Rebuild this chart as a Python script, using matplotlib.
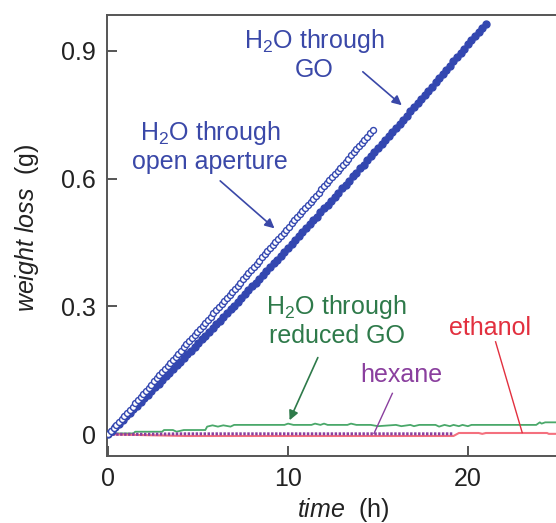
import numpy as np
import matplotlib
matplotlib.use("Agg")
import matplotlib.pyplot as plt

# fonts: Arial-like text, mathtext for the H2O subscript and italic words
plt.rcParams['font.family'] = ['Liberation Sans', 'DejaVu Sans']
plt.rcParams['mathtext.fontset'] = 'custom'
plt.rcParams['mathtext.rm'] = 'Liberation Sans'
plt.rcParams['mathtext.it'] = 'Liberation Sans:italic'

# ---- data ----
# H2O through GO, sampled every 0.2 h
go_t = np.arange(0, 21.01, 0.2)
go_w = [0.000, 0.008, 0.017, 0.025, 0.034, 0.042, 0.050, 0.059, 0.067, 0.076,
        0.084, 0.093, 0.101, 0.110, 0.119, 0.127, 0.136, 0.144, 0.153, 0.162,
        0.170, 0.179, 0.188, 0.196, 0.205, 0.214, 0.223, 0.231, 0.240, 0.249,
        0.258, 0.267, 0.276, 0.284, 0.293, 0.302, 0.311, 0.320, 0.329, 0.338,
        0.347, 0.356, 0.365, 0.374, 0.383, 0.392, 0.401, 0.410, 0.419, 0.428,
        0.438, 0.447, 0.456, 0.465, 0.474, 0.484, 0.493, 0.502, 0.511, 0.521,
        0.530, 0.539, 0.548, 0.558, 0.567, 0.577, 0.586, 0.595, 0.605, 0.614,
        0.624, 0.633, 0.643, 0.652, 0.662, 0.671, 0.681, 0.690, 0.700, 0.709,
        0.719, 0.729, 0.738, 0.748, 0.758, 0.767, 0.777, 0.787, 0.797, 0.806,
        0.816, 0.826, 0.836, 0.845, 0.855, 0.865, 0.875, 0.885, 0.895, 0.905,
        0.915, 0.925, 0.935, 0.944, 0.954, 0.964]

# H2O through open aperture, sampled every 0.15 h
open_t = np.arange(0, 14.71, 0.15)
open_w = [0.000, 0.007, 0.015, 0.022, 0.029, 0.036, 0.044, 0.051, 0.058, 0.065,
          0.073, 0.080, 0.087, 0.095, 0.102, 0.109, 0.116, 0.124, 0.131, 0.138,
          0.146, 0.153, 0.160, 0.167, 0.175, 0.182, 0.189, 0.196, 0.204, 0.211,
          0.218, 0.226, 0.233, 0.240, 0.247, 0.255, 0.262, 0.269, 0.276, 0.284,
          0.291, 0.298, 0.306, 0.313, 0.320, 0.327, 0.335, 0.342, 0.349, 0.356,
          0.364, 0.371, 0.378, 0.386, 0.393, 0.400, 0.407, 0.415, 0.422, 0.429,
          0.437, 0.444, 0.451, 0.458, 0.466, 0.473, 0.480, 0.487, 0.495, 0.502,
          0.509, 0.517, 0.524, 0.531, 0.538, 0.546, 0.553, 0.560, 0.567, 0.575,
          0.582, 0.589, 0.597, 0.604, 0.611, 0.618, 0.626, 0.633, 0.640, 0.647,
          0.655, 0.662, 0.669, 0.677, 0.684, 0.691, 0.698, 0.706, 0.713]

# H2O through reduced GO
rgo_t = [0, 0.1, 1.4, 1.5, 3.0, 3.1, 3.6, 3.8, 4.2, 5.4, 5.5, 5.8, 6.1, 6.4,
         6.8, 7.0, 9.8, 10.0, 10.3, 11.3, 11.5, 11.8, 12.0, 12.2, 13.3, 13.5,
         13.8, 14.6, 15.0, 16.0, 16.3, 16.8, 17.0, 17.3, 17.6, 18.2, 18.4, 18.7,
         19.0, 19.2, 19.5, 19.7, 20.0, 20.2, 23.8, 24.0, 24.1, 24.3, 25.0]
rgo_w = [0.0, 0.002, 0.002, 0.006, 0.006, 0.010, 0.010, 0.006, 0.010, 0.010,
         0.018, 0.021, 0.018, 0.021, 0.018, 0.022, 0.022, 0.025, 0.022, 0.022,
         0.025, 0.022, 0.025, 0.022, 0.022, 0.025, 0.022, 0.022, 0.019, 0.022,
         0.019, 0.022, 0.019, 0.022, 0.022, 0.022, 0.018, 0.022, 0.019, 0.022,
         0.019, 0.022, 0.019, 0.022, 0.022, 0.028, 0.025, 0.028, 0.028]

# ethanol
eth_t = [0, 2.0, 4.3, 19.2, 19.5, 20.6, 20.8, 21.0, 24.4, 24.5, 25.0]
eth_w = [0.0, -0.002, -0.004, -0.004, 0.003, 0.003, 0.001, 0.003, 0.003, 0.001, 0.001]

# hexane
hex_t = [0, 2, 4, 6, 8, 10, 12, 14, 16, 18, 19.2]
hex_w = [0.0, 0.0, 0.001, 0.001, 0.001, 0.001, 0.001, 0.001, 0.001, 0.001, 0.001]

x_ticks = [0, 10, 20]
y_ticks = [0, 0.3, 0.6, 0.9]
y_ticklabels = ["0", "0.3", "0.6", "0.9"]

blue = '#3347b0'
blue_txt = '#3a48a8'
green = '#4aa86a'
green_txt = '#2e7a4a'
purple = '#8a3f9e'
red = '#f4707e'
red_txt = '#e2303f'
spine_col = '#555555'
fs = 18

fig = plt.figure(figsize=(5.56, 5.23), dpi=100)
ax = fig.add_axes([0.1924, 0.1281, 0.8076, 0.8432])

ax.plot(rgo_t, rgo_w, color=green, lw=1.3, zorder=2)
ax.plot(eth_t, eth_w, color=red, lw=1.5, zorder=2)
ax.plot(hex_t, hex_w, color=purple, lw=2.2, ls=(0, (0.8, 0.5)), zorder=3)
ax.plot(go_t, go_w, ls='none', marker='o', ms=5.0, color=blue, mec=blue, zorder=4)
ax.plot(open_t, open_w, ls='none', marker='o', ms=4.3, mfc='white', mec=blue, mew=1.0, zorder=4)

ax.set_xlim(-0.07, 24.9)
ax.set_ylim(-0.051, 0.984)
ax.set_xticks(x_ticks)
ax.set_xticklabels([str(v) for v in x_ticks])
ax.set_yticks(y_ticks)
ax.set_yticklabels(y_ticklabels)
ax.tick_params(direction='in', length=7, width=1.4, color=spine_col, labelsize=fs, pad=8,
               labelcolor='#222222')
ax.spines['right'].set_visible(False)
for s in ['left', 'bottom', 'top']:
    ax.spines[s].set_color(spine_col)
    ax.spines[s].set_linewidth(1.4)

# annotations
ax.text(11.45, 0.892, "H$_2$O through\nGO", color=blue_txt, fontsize=fs, ha='center',
        va='center', multialignment='center', linespacing=1.15)
ax.annotate("", xy=(16.44, 0.768), xytext=(14.04, 0.855),
            arrowprops=dict(arrowstyle='-|>', color=blue_txt, lw=1.2, mutation_scale=14))
ax.text(5.68, 0.675, "H$_2$O through\nopen aperture", color=blue_txt, fontsize=fs, ha='center',
        va='center', multialignment='center', linespacing=1.15)
ax.annotate("", xy=(9.36, 0.479), xytext=(6.11, 0.599),
            arrowprops=dict(arrowstyle='-|>', color=blue_txt, lw=1.2, mutation_scale=14))
ax.text(12.7, 0.268, "H$_2$O through\nreduced GO", color=green_txt, fontsize=fs, ha='center',
        va='center', multialignment='center', linespacing=1.15)
ax.annotate("", xy=(10.02, 0.027), xytext=(11.72, 0.186),
            arrowprops=dict(arrowstyle='-|>', color=green_txt, lw=1.2, mutation_scale=14))
ax.text(16.3, 0.139, "hexane", color=purple, fontsize=fs, ha='center', va='center')
ax.plot([15.8, 14.78], [0.096, 0.002], color=purple, lw=1.0)
ax.text(21.23, 0.249, "ethanol", color=red_txt, fontsize=fs, ha='center', va='center')
ax.plot([21.54, 23.02], [0.217, 0.004], color=red_txt, lw=1.0)

# axis labels
fig.text(27 / 556, 1 - 228 / 523, r"$\it{weight\ loss}$  (g)", rotation=90, fontsize=fs,
         ha='center', va='center', color='#222222')
fig.text(343 / 556, 1 - 510 / 523, r"$\it{time}$  (h)", fontsize=fs,
         ha='center', va='center', color='#222222')

fig.savefig("out.png", dpi=100)
